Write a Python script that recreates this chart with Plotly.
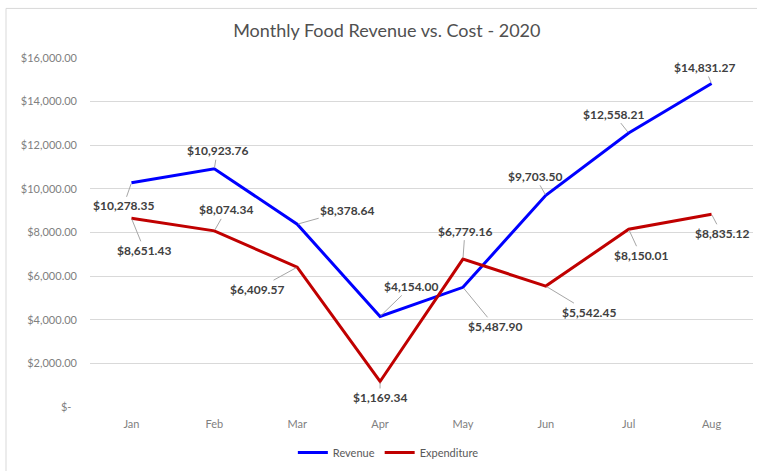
import plotly.graph_objects as go

months = ["Jan", "Feb", "Mar", "Apr", "May", "Jun", "Jul", "Aug"]
revenue = [10278.35, 10923.76, 8378.64, 4154.00, 5487.90, 9703.50, 12558.21, 14831.27]
expenditure = [8651.43, 8074.34, 6409.57, 1169.34, 6779.16, 5542.45, 8150.01, 8835.12]
y_tick_vals = [0, 2000, 4000, 6000, 8000, 10000, 12000, 14000, 16000]
y_tick_text = ["$-\u00a0\u00a0", "$2,000.00", "$4,000.00", "$6,000.00", "$8,000.00",
               "$10,000.00", "$12,000.00", "$14,000.00", "$16,000.00"]

# label offsets (pixels) -- styling only
rev_off = [(-8, 23), (3, -18), (50, -14), (31, -30), (32, 39), (-11, -19), (-15, -19), (-7, -16)]
exp_off = [(13, 32), (12, -21), (-40, 22), (0, 16), (2, -28), (43, 26), (12, 26), (10, 19)]

FONT = "Lato"
fig = go.Figure()
fig.add_trace(go.Scatter(x=months, y=revenue, mode="lines", name="Revenue",
                         line=dict(color="#0000ff", width=3)))
fig.add_trace(go.Scatter(x=months, y=expenditure, mode="lines", name="Expenditure",
                         line=dict(color="#c00000", width=3)))

annotations = []
for vals, offs in ((revenue, rev_off), (expenditure, exp_off)):
    for m, v, (dx, dy) in zip(months, vals, offs):
        annotations.append(dict(
            x=m, y=v, xref="x", yref="y", text="${:,.2f}".format(v),
            showarrow=True, arrowhead=0, arrowwidth=1, arrowcolor="#a6a6a6",
            ax=dx, ay=dy, standoff=1,
            font=dict(family=FONT, size=12, color="#404040", weight="bold"),
        ))

fig.update_layout(
    width=757, height=471, autosize=False,
    margin=dict(l=90, r=4, t=58, b=61),
    paper_bgcolor="white", plot_bgcolor="white",
    title=dict(text="Monthly Food Revenue vs. Cost - 2020", x=0.511, y=1 - 31 / 471,
               xanchor="center", yanchor="middle", xref="container", yref="container",
               font=dict(family=FONT, size=18, color="#505050")),
    xaxis=dict(type="category", range=[-0.5, 7.5], showgrid=False, showline=False,
               zeroline=False, ticks="", ticklabelstandoff=9,
               tickfont=dict(family=FONT, size=11, color="#808080")),
    yaxis=dict(range=[0, 16000], tickvals=y_tick_vals, ticktext=y_tick_text,
               showgrid=True, gridcolor="#d9d9d9", gridwidth=1, zeroline=False,
               showline=False, ticks="", ticklabelstandoff=12,
               tickfont=dict(family=FONT, size=11, color="#808080")),
    legend=dict(orientation="h", x=0.45, xanchor="center", y=(410 - 456) / 352,
                yanchor="middle", itemwidth=30,
                font=dict(family=FONT, size=11, color="#595959")),
    annotations=annotations,
    shapes=[dict(type="rect", xref="paper", yref="paper",
                 x0=(6 - 90) / 663, x1=1.2, y0=-0.5, y1=(410 - 8) / 352,
                 line=dict(color="#d9d9d9", width=1), layer="below")],
)

fig.write_html("out.html")
